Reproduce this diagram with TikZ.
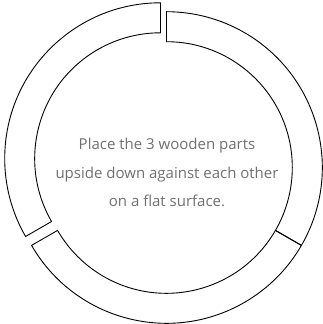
\documentclass[tikz,border=0pt]{standalone}
\usepackage{fontspec}
\setmainfont{Open Sans}
\usepackage{xcolor}
\usepackage{tikz}
\usetikzlibrary{calc}
\definecolor{textgray}{HTML}{707070}

\begin{document}
\begin{tikzpicture}[x=1pt, y=1pt, line width=0.9pt]
    % 1. Khung hinh (giu dung ti le)
    \useasboundingbox (0,0) rectangle (322,324);

    % 2. Tam cua cac manh go (manh trai hoi lech len tren)
    \coordinate (tamA) at (160.5,165.4);
    \coordinate (tamBC) at (166.5,156.5);

    % 3. Ba manh go hinh vanh khuyen, moi manh 120 do
    \foreach \c/\s/\e in {tamA/90/210, tamBC/210/330, tamBC/330/450}
        \draw ($(\c)+(\s:155.8)$) arc[start angle=\s, end angle=\e, radius=155.8]
            -- ($(\c)+(\e:125.8)$) arc[start angle=\e, end angle=\s, radius=125.8]
            -- cycle;

    % 4. Loi huong dan o giua
    \node[align=center, text=textgray, inner sep=0pt,
          font=\fontsize{15}{28.3}\selectfont] (instruction) at (167,151.3)
        {Place the 3 wooden parts\\upside down against each other\\on a flat surface.};
\end{tikzpicture}
\end{document}
